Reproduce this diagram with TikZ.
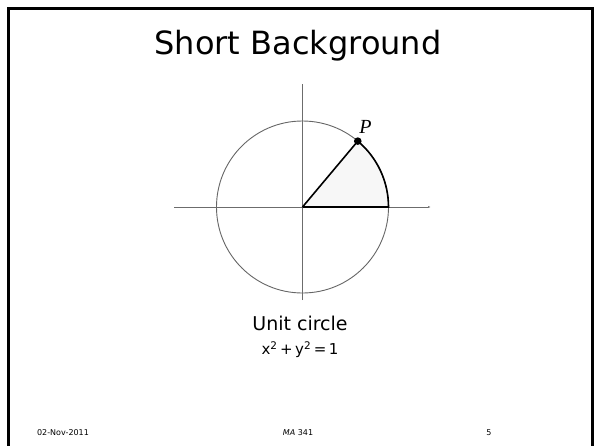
\documentclass[tikz,border=0pt]{standalone}
\usepackage{fontspec}
\setmainfont{DejaVu Sans}
\newfontfamily\serifP{Liberation Serif}
\usetikzlibrary{arrows.meta}
\begin{document}
\begin{tikzpicture}[x=1pt,y=-1pt,
  axisline/.style={draw=gray!85!black,line width=1pt},
  circline/.style={draw=gray!80!black,line width=0.9pt},
  boldline/.style={draw=black,line width=1.6pt},
  foot/.style={font=\fontsize{8}{9}\selectfont,inner sep=0pt}]
\useasboundingbox (0,0) rectangle (596,445);
\draw[line width=2.8pt] (8.5,460) -- (8.5,8.3) -- (592.3,8.3) -- (592.3,460);
\node[font=\fontsize{32}{36}\selectfont] (title) at (298,46) {Short Background};
\coordinate (O) at (302.5,207);
\fill[gray!6] (O) -- ++(86,0) arc[start angle=0,end angle=-50,radius=86] -- cycle;
\draw[circline] (O) circle[radius=86];
\draw[axisline,-{Latex[length=3pt,width=2pt]}] (174,207) coordinate (xl) -- (431,207) coordinate (xr);
\draw[axisline] (302.5,300) coordinate (yb) -- (302.5,84) coordinate (yt);
\draw[boldline] (O) -- ++(86,0) coordinate (A) arc[start angle=0,end angle=-50,radius=86] coordinate (Pt);
\draw[boldline] (O) -- (Pt);
\fill (Pt) circle[radius=3.8];
\node[font=\serifP\itshape\fontsize{20}{22}\selectfont,inner sep=0pt] (plabel) at (365.5,127) {P};
\node[font=\fontsize{19}{22}\selectfont] (uc) at (300,323) {Unit circle};
\node[font=\fontsize{15}{18}\selectfont] (eq) at (300,350) {x$^{\mathrm{2}}$\,+\,y$^{\mathrm{2}}$\,=\,1};
\node[foot] (date) at (63,433) {02-Nov-2011};
\node[foot] (course) at (298,433) {\textit{MA} 341};
\node[foot] (page) at (489,433) {5};
\end{tikzpicture}
\end{document}
